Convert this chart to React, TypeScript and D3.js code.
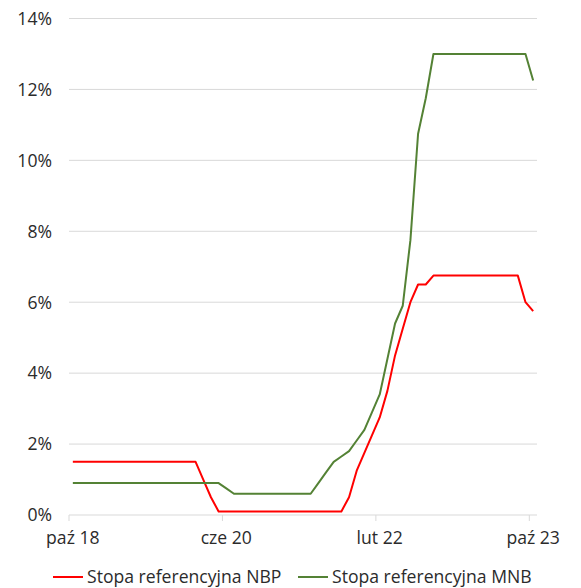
import { useEffect, useRef } from 'react'
import * as d3 from 'd3'

// monthly values, paź 18 .. paź 23 (61 months)
const nbpRate = [
  1.5, 1.5, 1.5, 1.5, 1.5, 1.5, 1.5, 1.5, 1.5, 1.5, 1.5, 1.5, 1.5, 1.5, 1.5, 1.5, 1.5,
  1.0, 0.5,
  0.1, 0.1, 0.1, 0.1, 0.1, 0.1, 0.1, 0.1, 0.1, 0.1, 0.1, 0.1, 0.1, 0.1, 0.1, 0.1, 0.1,
  0.5, 1.25, 1.75, 2.25, 2.75, 3.5, 4.5, 5.25, 6.0, 6.5, 6.5,
  6.75, 6.75, 6.75, 6.75, 6.75, 6.75, 6.75, 6.75, 6.75, 6.75, 6.75, 6.75,
  6.0, 5.75,
]

const mnbRate = [
  0.9, 0.9, 0.9, 0.9, 0.9, 0.9, 0.9, 0.9, 0.9, 0.9, 0.9, 0.9, 0.9, 0.9, 0.9, 0.9, 0.9, 0.9, 0.9, 0.9,
  0.75,
  0.6, 0.6, 0.6, 0.6, 0.6, 0.6, 0.6, 0.6, 0.6, 0.6, 0.6,
  0.9, 1.2, 1.5, 1.65, 1.8, 2.1, 2.4, 2.9, 3.4, 4.4, 5.4, 5.9, 7.75, 10.75, 11.75,
  13, 13, 13, 13, 13, 13, 13, 13, 13, 13, 13, 13, 13,
  12.25,
]

const tickIndex = [0, 20, 40, 60]
const tickLabels = ['paź 18', 'cze 20', 'lut 22', 'paź 23']
const yTicks = [0, 2, 4, 6, 8, 10, 12, 14]

const seriesNames = ['Stopa referencyjna NBP', 'Stopa referencyjna MNB']
const seriesColors = ['#ff0000', '#548235']

export default function App() {
  const ref = useRef<SVGSVGElement | null>(null)

  useEffect(() => {
    if (!ref.current) {return}
    const width = 581
    const height = 588
    const svg = d3.select(ref.current)
    svg.selectAll('*').remove()
    svg.attr('width', width).attr('height', height)

    const font = "'Open Sans', sans-serif"
    const fontSize = 17.6
    const textColor = '#2b2b2b'

    const x = d3
      .scaleBand<number>()
      .domain(d3.range(nbpRate.length))
      .range([69, 537])
      .padding(0)
    const y = d3.scaleLinear().domain([0, 14]).range([515, 18.5])
    const cx = (i: number) => (x(i) ?? 0) + x.bandwidth() / 2

    // gridlines
    svg
      .append('g')
      .selectAll('line')
      .data(yTicks)
      .join('line')
      .attr('x1', 69)
      .attr('x2', 537)
      .attr('y1', (d) => y(d))
      .attr('y2', (d) => y(d))
      .attr('stroke', '#d9d9d9')
      .attr('stroke-width', 1)

    // y labels
    svg
      .append('g')
      .selectAll('text')
      .data(yTicks)
      .join('text')
      .attr('x', 52)
      .attr('y', (d) => y(d))
      .attr('dy', '0.36em')
      .attr('text-anchor', 'end')
      .attr('font-family', font)
      .attr('font-size', fontSize)
      .attr('fill', textColor)
      .text((d) => `${d}%`)

    // x ticks at band boundaries
    svg
      .append('g')
      .selectAll('line')
      .data(tickIndex)
      .join('line')
      .attr('x1', (d) => x(d) ?? 0)
      .attr('x2', (d) => x(d) ?? 0)
      .attr('y1', 515)
      .attr('y2', 521)
      .attr('stroke', '#d9d9d9')

    svg
      .append('g')
      .selectAll('text')
      .data(tickIndex)
      .join('text')
      .attr('x', (d) => cx(d))
      .attr('y', 544)
      .attr('text-anchor', 'middle')
      .attr('font-family', font)
      .attr('font-size', fontSize)
      .attr('fill', textColor)
      .text((_, i) => tickLabels[i])

    const line = d3
      .line<number>()
      .x((_, i) => cx(i))
      .y((d) => y(d))

    ;[nbpRate, mnbRate].forEach((s, k) => {
      svg
        .append('path')
        .datum(s)
        .attr('fill', 'none')
        .attr('stroke', seriesColors[k])
        .attr('stroke-width', 2)
        .attr('stroke-linejoin', 'round')
        .attr('d', line)
    })

    // legend
    const legendX = [53, 298]
    const lg = svg.append('g')
    seriesNames.forEach((name, k) => {
      lg.append('line')
        .attr('x1', legendX[k])
        .attr('x2', legendX[k] + 30)
        .attr('y1', 577)
        .attr('y2', 577)
        .attr('stroke', seriesColors[k])
        .attr('stroke-width', 2)
      lg.append('text')
        .attr('x', legendX[k] + 34)
        .attr('y', 577)
        .attr('dy', '0.36em')
        .attr('font-family', font)
        .attr('font-size', fontSize)
        .attr('fill', textColor)
        .text(name)
    })
  }, [])

  return (
    <svg
      ref={ref}
      role="img"
      aria-label="Stopy referencyjne NBP i MNB"
      style={{ position: 'absolute', left: 0, top: 0, display: 'block', background: '#fff' }}
    />
  )
}
